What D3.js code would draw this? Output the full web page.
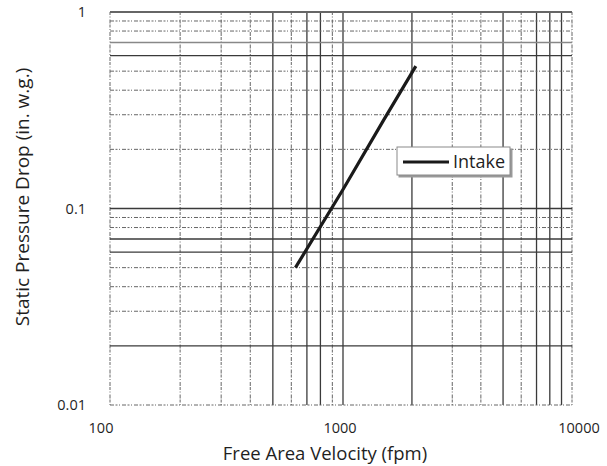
<!DOCTYPE html>
<html>
<head>
<meta charset="utf-8">
<script src="https://cdn.jsdelivr.net/npm/d3@7"></script>
<style>
  body { margin: 0; background: #fff; }
  text { font-family: "Open Sans", sans-serif; fill: #1f1f1f; }
</style>
</head>
<body>
<div id="chart"></div>
<script>
// Series (free area velocity fpm, pressure drop in. w.g.)
const velocity = [625, 1000, 1500, 2080];
const pressure = [0.05, 0.125, 0.28, 0.53];
const seriesName = "Intake";

// Axis ticks
const xTicks = [100, 1000, 10000];
const xTickLabels = ["100", "1000", "10000"];
const yTicks = [1, 0.1, 0.01];
const yTickLabels = ["1", "0.1", "0.01"];

// Grid lines that are printed solid on the scanned paper, the rest are broken
const solidX = [500, 700, 800, 1000, 2000, 5000, 7000, 8000, 9000];
const solidY = [0.7, 0.6, 0.1, 0.07, 0.06, 0.02];

const width = 607, height = 466;

const svg = d3.select("#chart")
  .append("svg")
  .attr("width", width)
  .attr("height", height);

// the scanned log axis is a touch uneven between decades
const x = d3.scaleLog().domain([100, 1000, 10000]).range([110, 343, 572]);
const y = d3.scaleLog().domain([0.01, 1]).range([405, 12]);
// labels sit a little wider than the grid
const xLabel = d3.scaleLog().domain([100, 10000]).range([101, 579]);

// Grid values for each decade
const xGrid = [];
[100, 1000].forEach(d => { for (let k = 1; k <= 9; k++) xGrid.push(d * k); });
xGrid.push(10000);
const yGrid = [];
[0.01, 0.1].forEach(d => { for (let k = 1; k <= 9; k++) yGrid.push(+(d * k).toFixed(3)); });
yGrid.push(1);

const isSolid = (arr, v) => arr.some(a => Math.abs(a - v) < 1e-9);

const grid = svg.append("g");

grid.selectAll(".vgrid")
  .data(xGrid)
  .enter()
  .append("line")
  .attr("x1", d => x(d)).attr("x2", d => x(d))
  .attr("y1", y(1)).attr("y2", y(0.01))
  .attr("stroke", d => isSolid(solidX, d) ? "#3a3a3a" : "#666")
  .attr("stroke-width", d => isSolid(solidX, d) ? 1.3 : 1)
  .attr("stroke-dasharray", d => isSolid(solidX, d) ? null : "3 1.5 1 2 4 1");

grid.selectAll(".hgrid")
  .data(yGrid)
  .enter()
  .append("line")
  .attr("x1", x(100)).attr("x2", x(10000))
  .attr("y1", d => y(d)).attr("y2", d => y(d))
  .attr("stroke", d => d === 0.7 ? "#888" : (isSolid(solidY, d) ? "#3a3a3a" : "#666"))
  .attr("stroke-width", d => d === 1 ? 2 : (isSolid(solidY, d) ? 1.4 : 1))
  .attr("stroke-dasharray", d => (d === 1 || isSolid(solidY, d)) ? null : "4 1.5 2 1.5 1 2");

// Tick labels
svg.append("g")
  .selectAll("text")
  .data(xTicks)
  .enter()
  .append("text")
  .attr("x", d => xLabel(d))
  .attr("y", 433)
  .attr("text-anchor", "middle")
  .attr("font-size", 14.5)
  .text((d, i) => xTickLabels[i]);

svg.append("g")
  .selectAll("text")
  .data(yTicks)
  .enter()
  .append("text")
  .attr("x", 86)
  .attr("y", d => y(d))
  .attr("dy", "0.35em")
  .attr("text-anchor", "end")
  .attr("font-size", 14.5)
  .text((d, i) => yTickLabels[i]);

// Axis titles
svg.append("text")
  .attr("x", 325)
  .attr("y", 460)
  .attr("text-anchor", "middle")
  .attr("font-size", 18.5)
  .text("Free Area Velocity (fpm)");

svg.append("text")
  .attr("transform", "translate(29,197) rotate(-90)")
  .attr("text-anchor", "middle")
  .attr("font-size", 19)
  .text("Static Pressure Drop (in. w.g.)");

// Data line
const line = d3.line()
  .x((d, i) => x(velocity[i]))
  .y((d, i) => y(pressure[i]));

svg.append("path")
  .datum(velocity)
  .attr("d", line)
  .attr("fill", "none")
  .attr("stroke", "#1a1a1a")
  .attr("stroke-width", 3.2);

// Legend
const legend = svg.append("g").attr("transform", "translate(397,147)");
legend.append("rect")
  .attr("x", 1.5).attr("y", 1.5)
  .attr("width", 114).attr("height", 29)
  .attr("fill", "#999");
legend.append("rect")
  .attr("width", 113).attr("height", 28)
  .attr("fill", "#fff")
  .attr("stroke", "#8a8a8a")
  .attr("stroke-width", 1);
legend.append("line")
  .attr("x1", 6).attr("x2", 52)
  .attr("y1", 15).attr("y2", 15)
  .attr("stroke", "#1a1a1a")
  .attr("stroke-width", 3);
legend.append("text")
  .attr("x", 56)
  .attr("y", 15)
  .attr("dy", "0.36em")
  .attr("font-size", 18)
  .text(seriesName);
</script>
</body>
</html>
